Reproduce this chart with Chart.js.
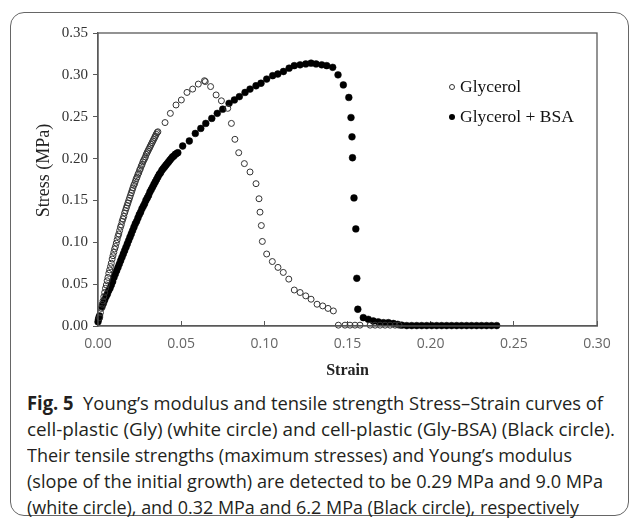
<!DOCTYPE html>
<html>
<head>
<meta charset="utf-8">
<script src="https://cdn.jsdelivr.net/npm/chart.js@4.4.1/dist/chart.umd.min.js"></script>
<style>
    html, body { margin: 0; padding: 0; background: #fff; }
    body { width: 630px; height: 522px; position: relative; overflow: hidden; }
    #frame { position: absolute; left: 10px; top: 12px; width: 619px; height: 504px; border: 1.5px solid #666; border-radius: 14px; box-sizing: border-box; }
    #chart { position: absolute; left: 0; top: 0; }
    .leg { position: absolute; left: 449px; font-family: "Liberation Serif", serif; font-size: 17.5px; color: #111; white-space: nowrap; line-height: 20px; }
    .leg i { display: inline-block; width: 6px; height: 6px; border-radius: 50%; box-sizing: border-box; margin-right: 5px; vertical-align: 2px; }
    #cap { position: absolute; left: 27px; top: 390px; font-family: "Open Sans", sans-serif; font-size: 19px; color: #231f20; }
    #cap div { white-space: nowrap; line-height: 26px; height: 26px; }
    #cap span.l { display: inline-block; transform-origin: left center; }
</style>
</head>
<body>
<div id="frame"></div>
<canvas id="chart" width="630" height="382"></canvas>
<div class="leg" style="top:76px"><i style="border:1px solid #333"></i>Glycerol</div>
<div class="leg" style="top:106px"><i style="background:#000"></i>Glycerol + BSA</div>
<div id="cap">
    <div><span class="l" data-w="576"><b>Fig. 5</b>&nbsp; Young’s modulus and tensile strength Stress–Strain curves of</span></div>
    <div><span class="l" data-w="588">cell-plastic (Gly) (white circle) and cell-plastic (Gly-BSA) (Black circle).</span></div>
    <div><span class="l" data-w="545">Their tensile strengths (maximum stresses) and Young’s modulus</span></div>
    <div><span class="l" data-w="576">(slope of the initial growth) are detected to be 0.29 MPa and 9.0 MPa</span></div>
    <div><span class="l" data-w="552">(white circle), and 0.32 MPa and 6.2 MPa (Black circle), respectively</span></div>
</div>
<script>
// Glycerol (open circles)
const glyStrain = [0.0010,
    0.0015, 0.0020, 0.0025, 0.0030, 0.0035, 0.0040, 0.0045, 0.0050, 0.0055, 0.0060,
    0.0065, 0.0070, 0.0075, 0.0080, 0.0085, 0.0090, 0.0095, 0.0100, 0.0105, 0.0110,
    0.0115, 0.0120, 0.0125, 0.0130, 0.0135, 0.0140, 0.0145, 0.0150, 0.0155, 0.0160,
    0.0165, 0.0170, 0.0175, 0.0180, 0.0185, 0.0190, 0.0195, 0.0200, 0.0205, 0.0210,
    0.0215, 0.0220, 0.0225, 0.0230, 0.0235, 0.0240, 0.0245, 0.0250, 0.0255, 0.0260,
    0.0265, 0.0270, 0.0275, 0.0280, 0.0285, 0.0290, 0.0295, 0.0300, 0.0305, 0.0310,
    0.0315, 0.0320, 0.0325, 0.0330, 0.0335, 0.0340, 0.0345, 0.0350, 0.0355, 0.0360,
    0.0403, 0.0435, 0.0469, 0.0501, 0.0535, 0.0569, 0.0603, 0.0640, 0.0645, 0.0677,
    0.0710, 0.0742, 0.0780, 0.0802, 0.0823, 0.0846, 0.0880, 0.0914, 0.0950, 0.0968,
    0.0974, 0.0982, 0.0988, 0.1014, 0.1048, 0.1082, 0.1114, 0.1147, 0.1180, 0.1215,
    0.1249, 0.1281, 0.1317, 0.1351, 0.1383, 0.1415,
    0.1445, 0.1485, 0.1515, 0.1545, 0.1575, 0.1636, 0.1666, 0.1696, 0.1726, 0.1756,
    0.1786, 0.1810];
const glyStress = [0.010,
    0.016, 0.021, 0.026, 0.030, 0.035, 0.040, 0.045, 0.049, 0.054, 0.058,
    0.063, 0.067, 0.071, 0.075, 0.080, 0.084, 0.088, 0.092, 0.095, 0.099,
    0.103, 0.107, 0.110, 0.114, 0.118, 0.121, 0.125, 0.128, 0.131, 0.135,
    0.138, 0.141, 0.144, 0.147, 0.150, 0.153, 0.156, 0.159, 0.162, 0.165,
    0.168, 0.170, 0.173, 0.176, 0.178, 0.181, 0.183, 0.186, 0.188, 0.191,
    0.193, 0.196, 0.198, 0.200, 0.202, 0.205, 0.207, 0.209, 0.211, 0.213,
    0.215, 0.217, 0.219, 0.221, 0.223, 0.225, 0.227, 0.229, 0.231, 0.232,
    0.243, 0.254, 0.264, 0.270, 0.279, 0.283, 0.289, 0.293, 0.292, 0.286,
    0.276, 0.269, 0.260, 0.242, 0.223, 0.207, 0.194, 0.184, 0.170, 0.152,
    0.136, 0.120, 0.101, 0.086, 0.077, 0.070, 0.064, 0.056, 0.043, 0.040,
    0.036, 0.032, 0.026, 0.024, 0.021, 0.018,
    0.001, 0.001, 0.001, 0.001, 0.001, 0.001, 0.001, 0.001, 0.001, 0.001,
    0.001, 0.001];

// Glycerol + BSA (filled circles)
const bsaStrain = [0.0000, 0.0003, 0.0006, 0.0009,
    0.0024, 0.0032, 0.0040, 0.0048, 0.0056, 0.0064, 0.0072, 0.0080, 0.0088, 0.0096,
    0.0104, 0.0112, 0.0120, 0.0128, 0.0136, 0.0144, 0.0152, 0.0160, 0.0168, 0.0176,
    0.0184, 0.0192, 0.0200, 0.0208, 0.0216, 0.0224, 0.0232, 0.0240, 0.0248, 0.0256,
    0.0264, 0.0272, 0.0280, 0.0288, 0.0296, 0.0304, 0.0312, 0.0320, 0.0328, 0.0336,
    0.0344, 0.0352, 0.0360, 0.0368, 0.0376, 0.0384, 0.0392, 0.0400, 0.0408, 0.0416,
    0.0424, 0.0432, 0.0440, 0.0448, 0.0456, 0.0464, 0.0472, 0.0480,
    0.0509, 0.0549, 0.0585, 0.0618, 0.0648, 0.0684, 0.0717, 0.0750, 0.0788, 0.0820,
    0.0850, 0.0884, 0.0914, 0.0950, 0.0980, 0.1014, 0.1050, 0.1081, 0.1115, 0.1149,
    0.1180, 0.1215, 0.1249, 0.1281, 0.1311, 0.1345, 0.1375, 0.1411, 0.1443, 0.1475,
    0.1508, 0.1521, 0.1527, 0.1530, 0.1539, 0.1550, 0.1556, 0.1562, 0.1595, 0.1625,
    0.1655, 0.1685, 0.1716, 0.1746, 0.1776, 0.1802, 0.1826,
    0.1856, 0.1886, 0.1916, 0.1946, 0.1976, 0.2006, 0.2036, 0.2066, 0.2096, 0.2126,
    0.2156, 0.2186, 0.2216, 0.2246, 0.2276, 0.2306, 0.2336, 0.2366, 0.2397];
const bsaStress = [0.005, 0.008, 0.010, 0.012,
    0.023, 0.027, 0.031, 0.035, 0.038, 0.042, 0.045, 0.049, 0.053, 0.058,
    0.062, 0.066, 0.070, 0.074, 0.078, 0.082, 0.086, 0.090, 0.094, 0.098,
    0.102, 0.106, 0.110, 0.114, 0.118, 0.122, 0.125, 0.129, 0.133, 0.136,
    0.140, 0.143, 0.146, 0.150, 0.153, 0.156, 0.160, 0.163, 0.166, 0.169,
    0.172, 0.175, 0.178, 0.181, 0.183, 0.186, 0.188, 0.190, 0.192, 0.194,
    0.196, 0.198, 0.200, 0.202, 0.203, 0.205, 0.206, 0.207,
    0.215, 0.221, 0.230, 0.236, 0.242, 0.248, 0.254, 0.259, 0.266, 0.270,
    0.274, 0.279, 0.283, 0.287, 0.290, 0.295, 0.299, 0.301, 0.304, 0.308,
    0.311, 0.312, 0.313, 0.314, 0.313, 0.312, 0.311, 0.309, 0.300, 0.288,
    0.273, 0.249, 0.226, 0.201, 0.153, 0.116, 0.057, 0.020, 0.010, 0.008,
    0.006, 0.005, 0.004, 0.004, 0.003, 0.002, 0.001,
    0.0005, 0.0005, 0.0005, 0.0005, 0.0005, 0.0005, 0.0005, 0.0005, 0.0005, 0.0005,
    0.0005, 0.0005, 0.0005, 0.0005, 0.0005, 0.0005, 0.0005, 0.0005, 0.0005];

const seriesNames = ['Glycerol', 'Glycerol + BSA'];

function pairs(xs, ys) {
    const n = Math.min(xs.length, ys.length);
    const out = [];
    for (let i = 0; i < n; i++) out.push({ x: xs[i], y: ys[i] });
    return out;
}

// frame round the plot area
const boxPlugin = {
    id: 'plotBox',
    afterDraw(chart) {
        const a = chart.chartArea;
        const c = chart.ctx;
        c.save();
        c.strokeStyle = '#595959';
        c.lineWidth = 1.3;
        c.strokeRect(a.left, a.top, a.right - a.left, a.bottom - a.top);
        c.restore();
    }
};

new Chart(document.getElementById('chart').getContext('2d'), {
    type: 'scatter',
    data: {
        datasets: [{
            label: seriesNames[0],
            data: pairs(glyStrain, glyStress),
            pointRadius: 3,
            pointHoverRadius: 3,
            pointBorderWidth: 1,
            pointBackgroundColor: 'rgba(0,0,0,0)',
            pointBorderColor: '#333',
            clip: false
        }, {
            label: seriesNames[1],
            data: pairs(bsaStrain, bsaStress),
            pointRadius: 3.4,
            pointHoverRadius: 3.4,
            pointBorderWidth: 0.5,
            pointBackgroundColor: '#000',
            pointBorderColor: '#000',
            clip: false
        }]
    },
    options: {
        responsive: false,
        animation: false,
        events: [],
        layout: { padding: { left: 0, top: 33, right: 33, bottom: 0 } },
        plugins: { legend: { display: false }, tooltip: { enabled: false } },
        scales: {
            x: {
                type: 'linear', min: 0, max: 0.3,
                afterFit(s) { s.height = 56; },
                ticks: {
                    stepSize: 0.05, maxRotation: 0, padding: 15,
                    callback: v => Number(v).toFixed(2),
                    font: { family: 'Open Sans', size: 14 }, color: '#666'
                },
                grid: { drawOnChartArea: false, tickLength: -5, color: '#595959' },
                border: { color: '#595959', width: 1.3 },
                title: {
                    display: true, text: 'Strain', color: '#222',
                    font: { family: 'Liberation Serif', size: 16, weight: 'bold' },
                    padding: { top: 0, bottom: 2 }
                }
            },
            y: {
                min: 0, max: 0.35,
                afterFit(s) { s.width = 98; },
                ticks: {
                    stepSize: 0.05, padding: 5,
                    callback: v => Number(v).toFixed(2),
                    font: { family: 'Liberation Serif', size: 15 }, color: '#333'
                },
                grid: { drawOnChartArea: false, tickLength: 5, color: '#595959' },
                border: { color: '#595959', width: 1.3 },
                title: {
                    display: true, text: '\u00a0\u00a0\u00a0\u00a0Stress (MPa)', color: '#222',
                    font: { family: 'Liberation Serif', size: 18 },
                    padding: { top: 33, bottom: 0 }
                }
            }
        }
    },
    plugins: [boxPlugin]
});

// squeeze each caption line to the width it has in the figure
document.querySelectorAll('#cap span.l').forEach(el => {
    const w = el.getBoundingClientRect().width;
    const target = Number(el.dataset.w);
    if (w > 0) el.style.transform = 'scaleX(' + (target / w).toFixed(4) + ')';
});
</script>
</body>
</html>
